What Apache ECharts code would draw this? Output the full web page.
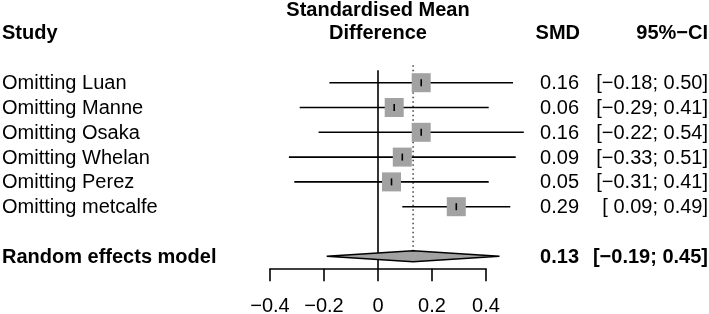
<!DOCTYPE html>
<html>
<head>
<meta charset="utf-8">
<script src="https://cdn.jsdelivr.net/npm/echarts@6/dist/echarts.min.js"></script>
<style>html,body{margin:0;padding:0;background:#fff}#c{width:709px;height:314px}</style>
</head>
<body>
<div id="c"></div>
<script>
// ---- data ----
const studies = ['Omitting Luan', 'Omitting Manne', 'Omitting Osaka', 'Omitting Whelan', 'Omitting Perez', 'Omitting metcalfe'];
const smd = [0.16, 0.06, 0.16, 0.09, 0.05, 0.29];
const lower = [-0.18, -0.29, -0.22, -0.33, -0.31, 0.09];
const upper = [0.50, 0.41, 0.54, 0.51, 0.41, 0.49];
const pooledLabel = 'Random effects model';
const pooledSmd = 0.13;
const pooledLower = -0.19;
const pooledUpper = 0.45;
const tickValues = [-0.4, -0.2, 0, 0.2, 0.4];
const tickLabels = ['\u22120.4', '\u22120.2', '0', '0.2', '0.4'];

// ---- helpers ----
const FONT = '"Liberation Sans", Arial, Helvetica, sans-serif';
function f2(v) { return (v < 0 ? '\u2212' : '') + Math.abs(v).toFixed(2); }
function ciStr(l, u) { return '[' + (l < 0 ? '\u2212' : ' ') + Math.abs(l).toFixed(2) + '; ' + f2(u) + ']'; }

const studyData = studies.map((s, i) => [i + 1, smd[i], lower[i], upper[i]]);
const pooledRow = studies.length + 2;

const chart = echarts.init(document.getElementById('c'), null, { renderer: 'canvas' });

function txt(x, y, text, align, bold) {
  return {
    type: 'text',
    style: { x: x, y: y, text: text, fill: '#000', font: (bold ? 'bold ' : '') + '20px ' + FONT, textAlign: align, textVerticalAlign: 'middle' }
  };
}

chart.setOption({
  animation: false,
  backgroundColor: '#fff',
  grid: { left: 270, right: 223, top: 70.3, bottom: 45.3, containLabel: false, outerBoundsMode: 'none' },
  xAxis: {
    type: 'value', min: -0.4, max: 0.4, interval: 0.2,
    axisLine: { show: true, onZero: false, lineStyle: { color: '#000', width: 1.6 } },
    axisTick: { show: true, length: 12.5, lineStyle: { color: '#000', width: 1.6 } },
    splitLine: { show: false },
    axisLabel: {
      margin: 28, color: '#000', fontSize: 20, fontFamily: FONT,
      formatter: function (v) {
        const k = tickValues.findIndex(t => Math.abs(t - v) < 1e-9);
        return k >= 0 ? tickLabels[k] : '';
      }
    }
  },
  yAxis: { type: 'value', min: 0.5, max: 8.5, inverse: true, show: false },
  graphic: [
    txt(2, 33, 'Study', 'left', true),
    txt(378, 10, 'Standardised Mean', 'center', true),
    txt(378, 33, 'Difference', 'center', true),
    txt(580, 33, 'SMD', 'right', true),
    txt(708, 33, '95%\u2212CI', 'right', true)
  ],
  series: [
    {
      type: 'custom', clip: false, z: 1,
      data: [[0, 0.5, 8.5, 0], [pooledSmd, 0.3, pooledRow, 1]],
      renderItem: function (params, api) {
        const x = api.value(0);
        const p1 = api.coord([x, api.value(1)]);
        const p2 = api.coord([x, api.value(2)]);
        if (api.value(3) === 0) {
          return { type: 'line', shape: { x1: p1[0], y1: p1[1], x2: p2[0], y2: p2[1] }, style: { stroke: '#000', lineWidth: 1.6 } };
        }
        return { type: 'line', shape: { x1: p1[0], y1: p1[1], x2: p2[0], y2: p2[1] - 6 }, style: { stroke: '#222', lineWidth: 1.3, lineDash: [1.5, 3] } };
      }
    },
    {
      type: 'custom', clip: false, z: 3,
      data: studyData,
      renderItem: function (params, api) {
        const i = params.dataIndex;
        const row = api.value(0);
        const pe = api.coord([api.value(1), row]);
        const pl = api.coord([api.value(2), row]);
        const pu = api.coord([api.value(3), row]);
        const y = pe[1];
        const half = 9.5;
        return {
          type: 'group',
          children: [
            { type: 'line', shape: { x1: pl[0], y1: y, x2: pu[0], y2: y }, style: { stroke: '#000', lineWidth: 1.6 } },
            { type: 'rect', shape: { x: pe[0] - half, y: y - half, width: half * 2, height: half * 2 }, style: { fill: '#a2a2a2' } },
            { type: 'line', shape: { x1: pe[0], y1: y - 3.5, x2: pe[0], y2: y + 3.5 }, style: { stroke: '#000', lineWidth: 1.6 } },
            txt(2, y + 1, studies[i], 'left', false),
            txt(579, y + 1, smd[i].toFixed(2), 'right', false),
            txt(708, y + 1, ciStr(lower[i], upper[i]), 'right', false)
          ]
        };
      }
    },
    {
      type: 'custom', clip: false, z: 2,
      data: [[pooledRow, pooledSmd, pooledLower, pooledUpper]],
      renderItem: function (params, api) {
        const row = api.value(0);
        const pe = api.coord([api.value(1), row]);
        const pl = api.coord([api.value(2), row]);
        const pu = api.coord([api.value(3), row]);
        const y = pe[1];
        const h = 5.5;
        return {
          type: 'group',
          children: [
            { type: 'polygon', shape: { points: [[pl[0], y], [pe[0], y - h], [pu[0], y], [pe[0], y + h]] }, style: { fill: '#a2a2a2', stroke: '#000', lineWidth: 1.4 } },
            txt(2, y + 1, pooledLabel, 'left', true),
            txt(579, y + 1, pooledSmd.toFixed(2), 'right', true),
            txt(708, y + 1, ciStr(pooledLower, pooledUpper), 'right', true)
          ]
        };
      }
    }
  ]
});
</script>
</body>
</html>
